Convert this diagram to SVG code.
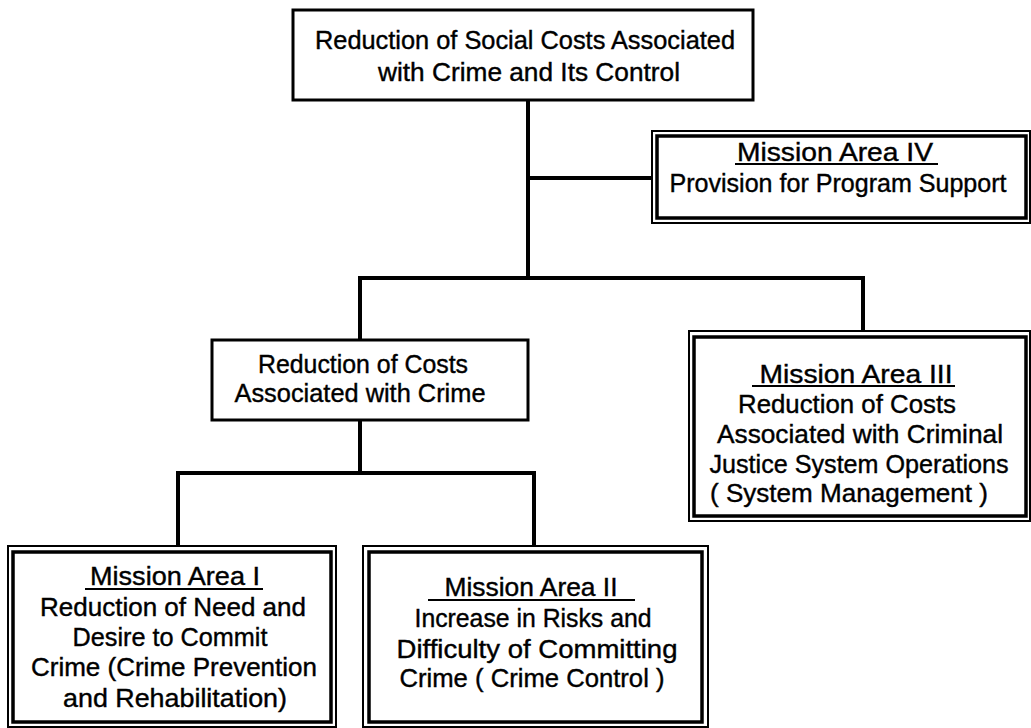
<svg xmlns="http://www.w3.org/2000/svg" width="1031" height="728" viewBox="0 0 1031 728">
<style>
text{font-family:"Liberation Sans",Arial,sans-serif;font-size:26px;fill:#000;stroke:#000;stroke-width:0.4;text-anchor:middle}
.box{fill:#fff;stroke:#000;stroke-width:3}
.outer{fill:#fff;stroke:#000;stroke-width:2}
.inner{fill:none;stroke:#000;stroke-width:3.5}
.ul{stroke:#000;stroke-width:2}
.conn{fill:none;stroke:#000;stroke-width:4;stroke-linecap:square}
</style>
<rect width="1031" height="728" fill="#fff"/>
<g id="connectors">
<path class="conn" d="M528 100V278"/>
<path class="conn" d="M528 178H651"/>
<path class="conn" d="M360 278H863V330"/>
<path class="conn" d="M360 278V339"/>
<path class="conn" d="M360 421V473"/>
<path class="conn" d="M178 545V473H534V545"/>
</g>
<g id="root">
<rect class="box" x="293" y="10" width="460" height="90"/>
<text x="525" y="49" textLength="420" lengthAdjust="spacingAndGlyphs">Reduction of Social Costs Associated</text>
<text x="529" y="81" textLength="302" lengthAdjust="spacingAndGlyphs">with Crime and Its Control</text>
</g>
<g id="mission4">
<rect class="outer" x="652" y="131" width="378" height="92"/>
<rect class="inner" x="657" y="136" width="369" height="82"/>
<text x="835" y="161" textLength="196" lengthAdjust="spacingAndGlyphs">Mission Area IV</text>
<line class="ul" x1="735" y1="164" x2="938" y2="164"/>
<text x="838" y="192" textLength="337" lengthAdjust="spacingAndGlyphs">Provision for Program Support</text>
</g>
<g id="crime-costs">
<rect class="box" x="212" y="340" width="316" height="80"/>
<text x="363" y="373" textLength="210" lengthAdjust="spacingAndGlyphs">Reduction of Costs</text>
<text x="360" y="402" textLength="251" lengthAdjust="spacingAndGlyphs">Associated with Crime</text>
</g>
<g id="mission3">
<rect class="outer" x="689" y="331" width="341" height="190"/>
<rect class="inner" x="694" y="337" width="332" height="179"/>
<text x="856" y="383" textLength="193" lengthAdjust="spacingAndGlyphs">Mission Area III</text>
<line class="ul" x1="752" y1="386" x2="955" y2="386"/>
<text x="847" y="413" textLength="218" lengthAdjust="spacingAndGlyphs">Reduction of Costs</text>
<text x="860" y="443" textLength="286" lengthAdjust="spacingAndGlyphs">Associated with Criminal</text>
<text x="859" y="473" textLength="299" lengthAdjust="spacingAndGlyphs">Justice System Operations</text>
<text x="849" y="502" textLength="278" lengthAdjust="spacingAndGlyphs">( System Management )</text>
</g>
<g id="mission1">
<rect class="outer" x="8" y="546" width="328" height="181"/>
<rect class="inner" x="13" y="552" width="318" height="170"/>
<text x="175" y="585" textLength="170" lengthAdjust="spacingAndGlyphs">Mission Area I</text>
<line class="ul" x1="85" y1="589" x2="263" y2="589"/>
<text x="173" y="616" textLength="266" lengthAdjust="spacingAndGlyphs">Reduction of Need and</text>
<text x="170" y="646" textLength="195" lengthAdjust="spacingAndGlyphs">Desire to Commit</text>
<text x="174" y="676" textLength="286" lengthAdjust="spacingAndGlyphs">Crime (Crime Prevention</text>
<text x="175" y="707" textLength="224" lengthAdjust="spacingAndGlyphs">and Rehabilitation)</text>
</g>
<g id="mission2">
<rect class="outer" x="363" y="546" width="345" height="181"/>
<rect class="inner" x="369" y="552" width="333" height="170"/>
<text x="531" y="596" textLength="173" lengthAdjust="spacingAndGlyphs">Mission Area II</text>
<line class="ul" x1="428" y1="600" x2="635" y2="600"/>
<text x="533" y="627" textLength="237" lengthAdjust="spacingAndGlyphs">Increase in Risks and</text>
<text x="537" y="658" textLength="281" lengthAdjust="spacingAndGlyphs">Difficulty of Committing</text>
<text x="532" y="687" textLength="265" lengthAdjust="spacingAndGlyphs">Crime ( Crime Control )</text>
</g>
</svg>
